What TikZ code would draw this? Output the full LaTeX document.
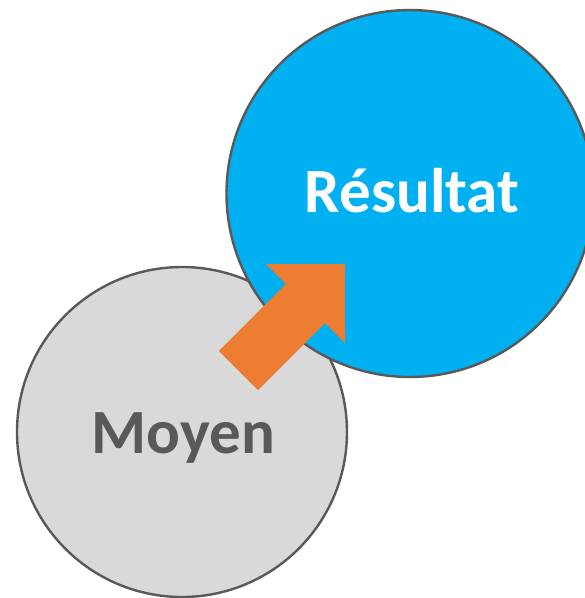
\documentclass[tikz,border=0pt]{standalone}
\usepackage{fontspec}
\setmainfont{Carlito}
\usepackage{tikz}
\definecolor{rim}{HTML}{595959}
\definecolor{moyenfill}{HTML}{D9D9D9}
\definecolor{resultfill}{HTML}{00B0F0}
\definecolor{arrowfill}{HTML}{ED7D31}
\begin{document}
\begin{tikzpicture}[x=1pt,y=-1pt,line width=2.4pt]
\tikzstyle{every node}=[font=\fontsize{63}{75}\selectfont\bfseries]
\tikzstyle{disc}=[circle,draw=rim,inner sep=0pt]
\useasboundingbox (0,0) rectangle (585,598);
\clip (0,0) rectangle (585,598);
\node[disc,fill=moyenfill,minimum size=330pt] (moyen) at (182,432) {};
\node[disc,fill=resultfill,minimum size=367pt] (resultat) at (410,193.5) {};
\node[text=rim,anchor=base] (moyenlabel) at (183.5,453) {Moyen};
\node[text=white,anchor=base] (resultatlabel) at (412,212) {Résultat};
\fill[arrowfill] (218.9,350.9) -- (285.9,283.9) -- (266,264) -- (345,264) -- (345,343) -- (325.1,323.1) -- (258.1,390.1) -- cycle;
\end{tikzpicture}
\end{document}
